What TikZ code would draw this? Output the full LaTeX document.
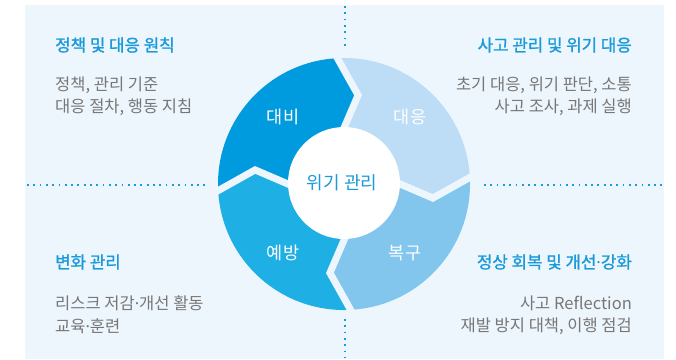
\documentclass[tikz,border=0pt]{standalone}
\usepackage{fontspec}
\setmainfont{Noto Sans CJK KR}
\newfontfamily\krb[FakeBold=1.3]{Noto Sans CJK KR}
\newfontfamily\latn{Noto Sans}
\newcommand\mdot{{\latn\char"00B7}}
\usetikzlibrary{calc}
\definecolor{bgc}{HTML}{EEF6FD}
\definecolor{cA}{HTML}{009BDE}
\definecolor{cB}{HTML}{BCDDF5}
\definecolor{cC}{HTML}{82C6EE}
\definecolor{cD}{HTML}{1EAFE5}
\definecolor{tblue}{HTML}{1A9AD8}
\definecolor{tgray}{HTML}{777777}
\tikzset{
  ttl/.style={text=tblue, font=\krb\fontsize{16.8}{18}\selectfont, inner sep=0pt},
  bodytxt/.style={text=tgray, font=\fontsize{16.5}{18}\selectfont, inner sep=0pt},
  seglbl/.style={text=white, font=\fontsize{17.5}{18}\selectfont, inner sep=0pt},
  dotline/.style={tblue, line width=1.8pt, dash pattern=on 1.8pt off 4.5pt}
}
\begin{document}
\begin{tikzpicture}[x=1pt,y=-1pt]
\useasboundingbox (0,0) rectangle (676,359);
\fill[bgc] (25,5) rectangle (664,359);
\begin{scope}[shift={(344,184)}, y=1pt]
  \foreach \s/\col in {183/cA, 93/cB, 3/cC, -87/cD} {
    \pgfmathsetmacro\e{\s-90}
    \fill[\col] (\s:126) arc[start angle=\s, end angle=\e, radius=126]
      -- (\e-12:90) -- (\e:50) arc[start angle=\e, end angle=\s, radius=50]
      -- (\s-12:90) -- cycle;
  }
  \foreach \b in {93,3,-87,183} {
    \draw[bgc, line width=7pt, line join=miter]
      ($(\b-12:90)!1.3!(\b:126)$) -- (\b-12:90) -- ($(\b-12:90)!1.2!(\b:50)$);
  }
  \fill[white] (0,1) circle (56);
\end{scope}
% dotted guide lines
\coordinate (vt1) at (345,6);
\coordinate (vt2) at (345,50);
\coordinate (vb1) at (345,319);
\coordinate (vb2) at (345,358);
\coordinate (hl1) at (27,185);
\coordinate (hl2) at (207,185);
\coordinate (hr1) at (484,185);
\coordinate (hr2) at (663,185);
\draw[dotline] (vt1) -- (vt2);
\draw[dotline] (vb1) -- (vb2);
\draw[dotline] (hl1) -- (hl2);
\draw[dotline] (hr1) -- (hr2);
% ring labels
\node[seglbl] (s1) at (283,117) {대비};
\node[seglbl] (s2) at (410,117) {대응};
\node[seglbl] (s3) at (405,253) {복구};
\node[seglbl] (s4) at (283,253) {예방};
\node[text=tblue, font=\fontsize{18}{20}\selectfont, inner sep=0pt] (ctr) at (342,183) {위기 관리};
% quadrant texts
\node[ttl, anchor=west] (a0) at (55,45) {정책 및 대응 원칙};
\node[bodytxt, anchor=west] (a1) at (55,85) {정책, 관리 기준};
\node[bodytxt, anchor=west] (a2) at (55,107) {대응 절차, 행동 지침};
\node[ttl, anchor=east] (b0) at (632,45) {사고 관리 및 위기 대응};
\node[bodytxt, anchor=east] (b1) at (632,85) {초기 대응, 위기 판단, 소통};
\node[bodytxt, anchor=east] (b2) at (632,107) {사고 조사, 과제 실행};
\node[ttl, anchor=west] (c0) at (55,262) {변화 관리};
\node[bodytxt, anchor=west] (c1) at (55,303) {리스크 저감\mdot 개선 활동};
\node[bodytxt, anchor=west] (c2) at (55,326) {교육\mdot 훈련};
\node[ttl, anchor=east] (d0) at (632,262) {정상 회복 및 개선\mdot 강화};
\node[bodytxt, anchor=east] (d1) at (632,303) {사고 Reflection};
\node[bodytxt, anchor=east] (d2) at (632,326) {재발 방지 대책, 이행 점검};
\end{tikzpicture}
\end{document}
